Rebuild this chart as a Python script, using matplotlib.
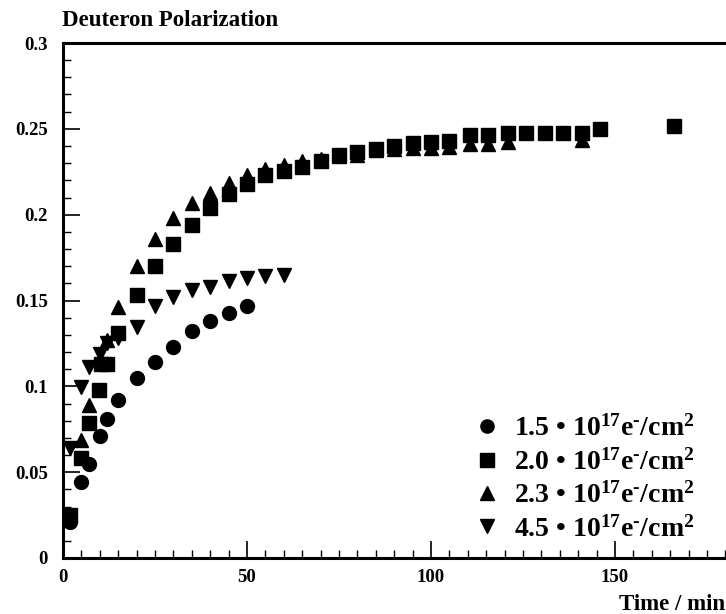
import numpy as np
import matplotlib
matplotlib.use("Agg")
import matplotlib.pyplot as plt
import matplotlib.ticker as ticker

plt.rcParams['font.family'] = ['Liberation Serif', 'DejaVu Serif']
plt.rcParams['font.weight'] = 'bold'
plt.rcParams['mathtext.fontset'] = 'custom'
plt.rcParams['mathtext.rm'] = 'Liberation Serif:bold'
plt.rcParams['mathtext.it'] = 'Liberation Serif:italic:bold'
plt.rcParams['mathtext.bf'] = 'Liberation Serif:bold'

# dose 1.5e17 e-/cm2
t_15 = [2, 5, 7, 10, 12, 15, 20, 25, 30, 35, 40, 45, 50]
p_15 = [0.021, 0.0445, 0.055, 0.071, 0.081, 0.092, 0.105, 0.114, 0.123,
        0.132, 0.138, 0.143, 0.147]

# dose 2.0e17 e-/cm2
t_20 = [2, 5, 7, 9.7, 10.2, 12, 15, 20, 25, 30, 35, 40, 45, 50, 55, 60, 65,
        70, 75, 80, 85, 90, 95, 100, 105, 110.5, 115.5, 120.8, 125.8, 131,
        136, 141, 146, 166]
p_20 = [0.025, 0.058, 0.0785, 0.098, 0.113, 0.113, 0.131, 0.153, 0.170,
        0.183, 0.194, 0.204, 0.212, 0.218, 0.223, 0.2255, 0.228, 0.2315,
        0.2345, 0.2365, 0.238, 0.240, 0.2415, 0.2425, 0.243, 0.2464, 0.2464,
        0.2478, 0.2478, 0.2474, 0.2478, 0.2474, 0.2499, 0.2516]

# dose 2.3e17 e-/cm2
t_23 = [5, 7, 12, 15, 20, 25, 30, 35, 40, 45, 50, 55, 60, 65, 70, 75, 80,
        85, 90, 95, 100, 105, 110.5, 115.5, 120.8, 141]
p_23 = [0.069, 0.089, 0.127, 0.146, 0.170, 0.186, 0.198, 0.2066, 0.2128,
        0.2183, 0.2231, 0.2265, 0.229, 0.2311, 0.2327, 0.234, 0.235, 0.2375,
        0.238, 0.2386, 0.239, 0.2392, 0.2413, 0.2413, 0.2423, 0.2435]

# dose 4.5e17 e-/cm2
t_45 = [2, 5, 7, 10, 12, 15, 20, 25, 30, 35, 40, 45, 50, 55, 60]
p_45 = [0.064, 0.0998, 0.1113, 0.119, 0.125, 0.128, 0.1347, 0.1468, 0.152,
        0.156, 0.158, 0.1615, 0.163, 0.164, 0.1648]

labels = [r'1.5 • $10^{17}$e$^{\text{-}}$/cm$^{2}$',
          r'2.0 • $10^{17}$e$^{\text{-}}$/cm$^{2}$',
          r'2.3 • $10^{17}$e$^{\text{-}}$/cm$^{2}$',
          r'4.5 • $10^{17}$e$^{\text{-}}$/cm$^{2}$']
yticks = [0, 0.05, 0.1, 0.15, 0.2, 0.25, 0.3]
yticklabels = ['0', '0.05', '0.1', '0.15', '0.2', '0.25', '0.3']
xticks = [0, 50, 100, 150]

fig = plt.figure(figsize=(7.26, 6.14), dpi=100)
W, H = 726.0, 614.0
ax = fig.add_axes([63 / W, 56 / H, 662.4 / W, 515 / H])

ms = 10
ax.plot(t_15, p_15, 'o', color='k', ms=ms, label=labels[0])
ax.plot(t_20, p_20, 's', color='k', ms=ms, label=labels[1])
ax.plot(t_23, p_23, '^', color='k', ms=ms, label=labels[2])
ax.plot(t_45, p_45, 'v', color='k', ms=ms, label=labels[3])

ax.set_xlim(0, 180)
ax.set_ylim(0, 0.3)
ax.set_xticks(xticks)
ax.set_xticklabels([str(v) for v in xticks])
ax.set_yticks(yticks)
ax.set_yticklabels(yticklabels)
ax.xaxis.set_minor_locator(ticker.MultipleLocator(5))
ax.yaxis.set_minor_locator(ticker.MultipleLocator(0.01))
ax.tick_params(which='major', direction='in', length=12, width=1.2,
               labelsize=13.5, top=False, right=False)
ax.tick_params(which='minor', direction='in', length=6, width=1.0,
               top=False, right=False)
ax.tick_params(axis='y', which='major', pad=11)
ax.tick_params(axis='x', which='major', pad=8)
for lab in ax.get_xticklabels() + ax.get_yticklabels():
    lab.set_fontweight('bold')

ax.spines['right'].set_visible(False)
for s in ['left', 'bottom', 'top']:
    ax.spines[s].set_linewidth(2.2)

fig.text(62 / W, 1 - 26 / H, 'Deuteron Polarization', fontsize=16.5,
         fontweight='bold', ha='left', va='baseline')
fig.text(0.999, 1 - 610 / H, 'Time / min', fontsize=16.5,
         fontweight='bold', ha='right', va='baseline')

leg = ax.legend(loc='lower right', bbox_to_anchor=(0.983, -0.007),
                frameon=False, fontsize=20, handlelength=0.8,
                handletextpad=0.6, labelspacing=0.25, borderpad=0.2,
                markerscale=0.95)

fig.savefig('out.png', dpi=100)
